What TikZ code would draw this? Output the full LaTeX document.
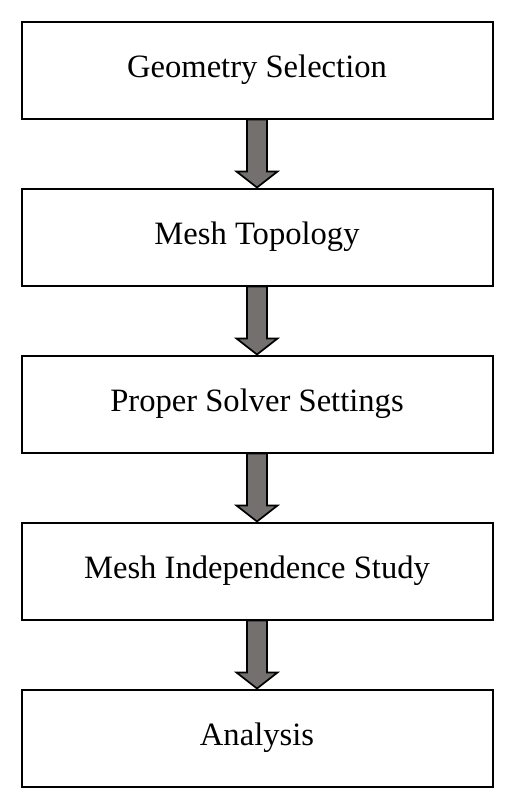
\documentclass[tikz,border=0pt]{standalone}
\usepackage{fontspec}
\setmainfont{Liberation Serif}
\usetikzlibrary{calc}
\tikzset{
  stepbox/.style={draw=black, line width=2pt, fill=white, minimum width=471pt, minimum height=97pt, inner sep=0pt, font=\fontsize{32.6}{37}\selectfont},
  blk/.style={draw=black, line width=1.7pt, fill=arrowgray, line join=miter}
}
\definecolor{arrowgray}{RGB}{116,112,111}
\newcommand{\blockarrow}[2]{%
  \path[blk] ($(#1.south)+(-10,0)$) -- ($(#2.north)+(-10,-16)$) -- ($(#2.north)+(-20.5,-16)$) -- (#2.north) -- ($(#2.north)+(20.5,-16)$) -- ($(#2.north)+(10,-16)$) -- ($(#1.south)+(10,0)$) -- cycle;}
\begin{document}
\begin{tikzpicture}[x=1pt,y=-1pt]
\useasboundingbox (0,0) rectangle (515,809);
\node[stepbox] (b1) at (257,70) {Geometry Selection};
\node[stepbox] (b2) at (257,237) {Mesh Topology};
\node[stepbox] (b3) at (257,404) {Proper Solver Settings};
\node[stepbox] (b4) at (257,571) {Mesh Independence Study};
\node[stepbox] (b5) at (257,738) {Analysis};
\blockarrow{b1}{b2}
\blockarrow{b2}{b3}
\blockarrow{b3}{b4}
\blockarrow{b4}{b5}
\end{tikzpicture}
\end{document}
